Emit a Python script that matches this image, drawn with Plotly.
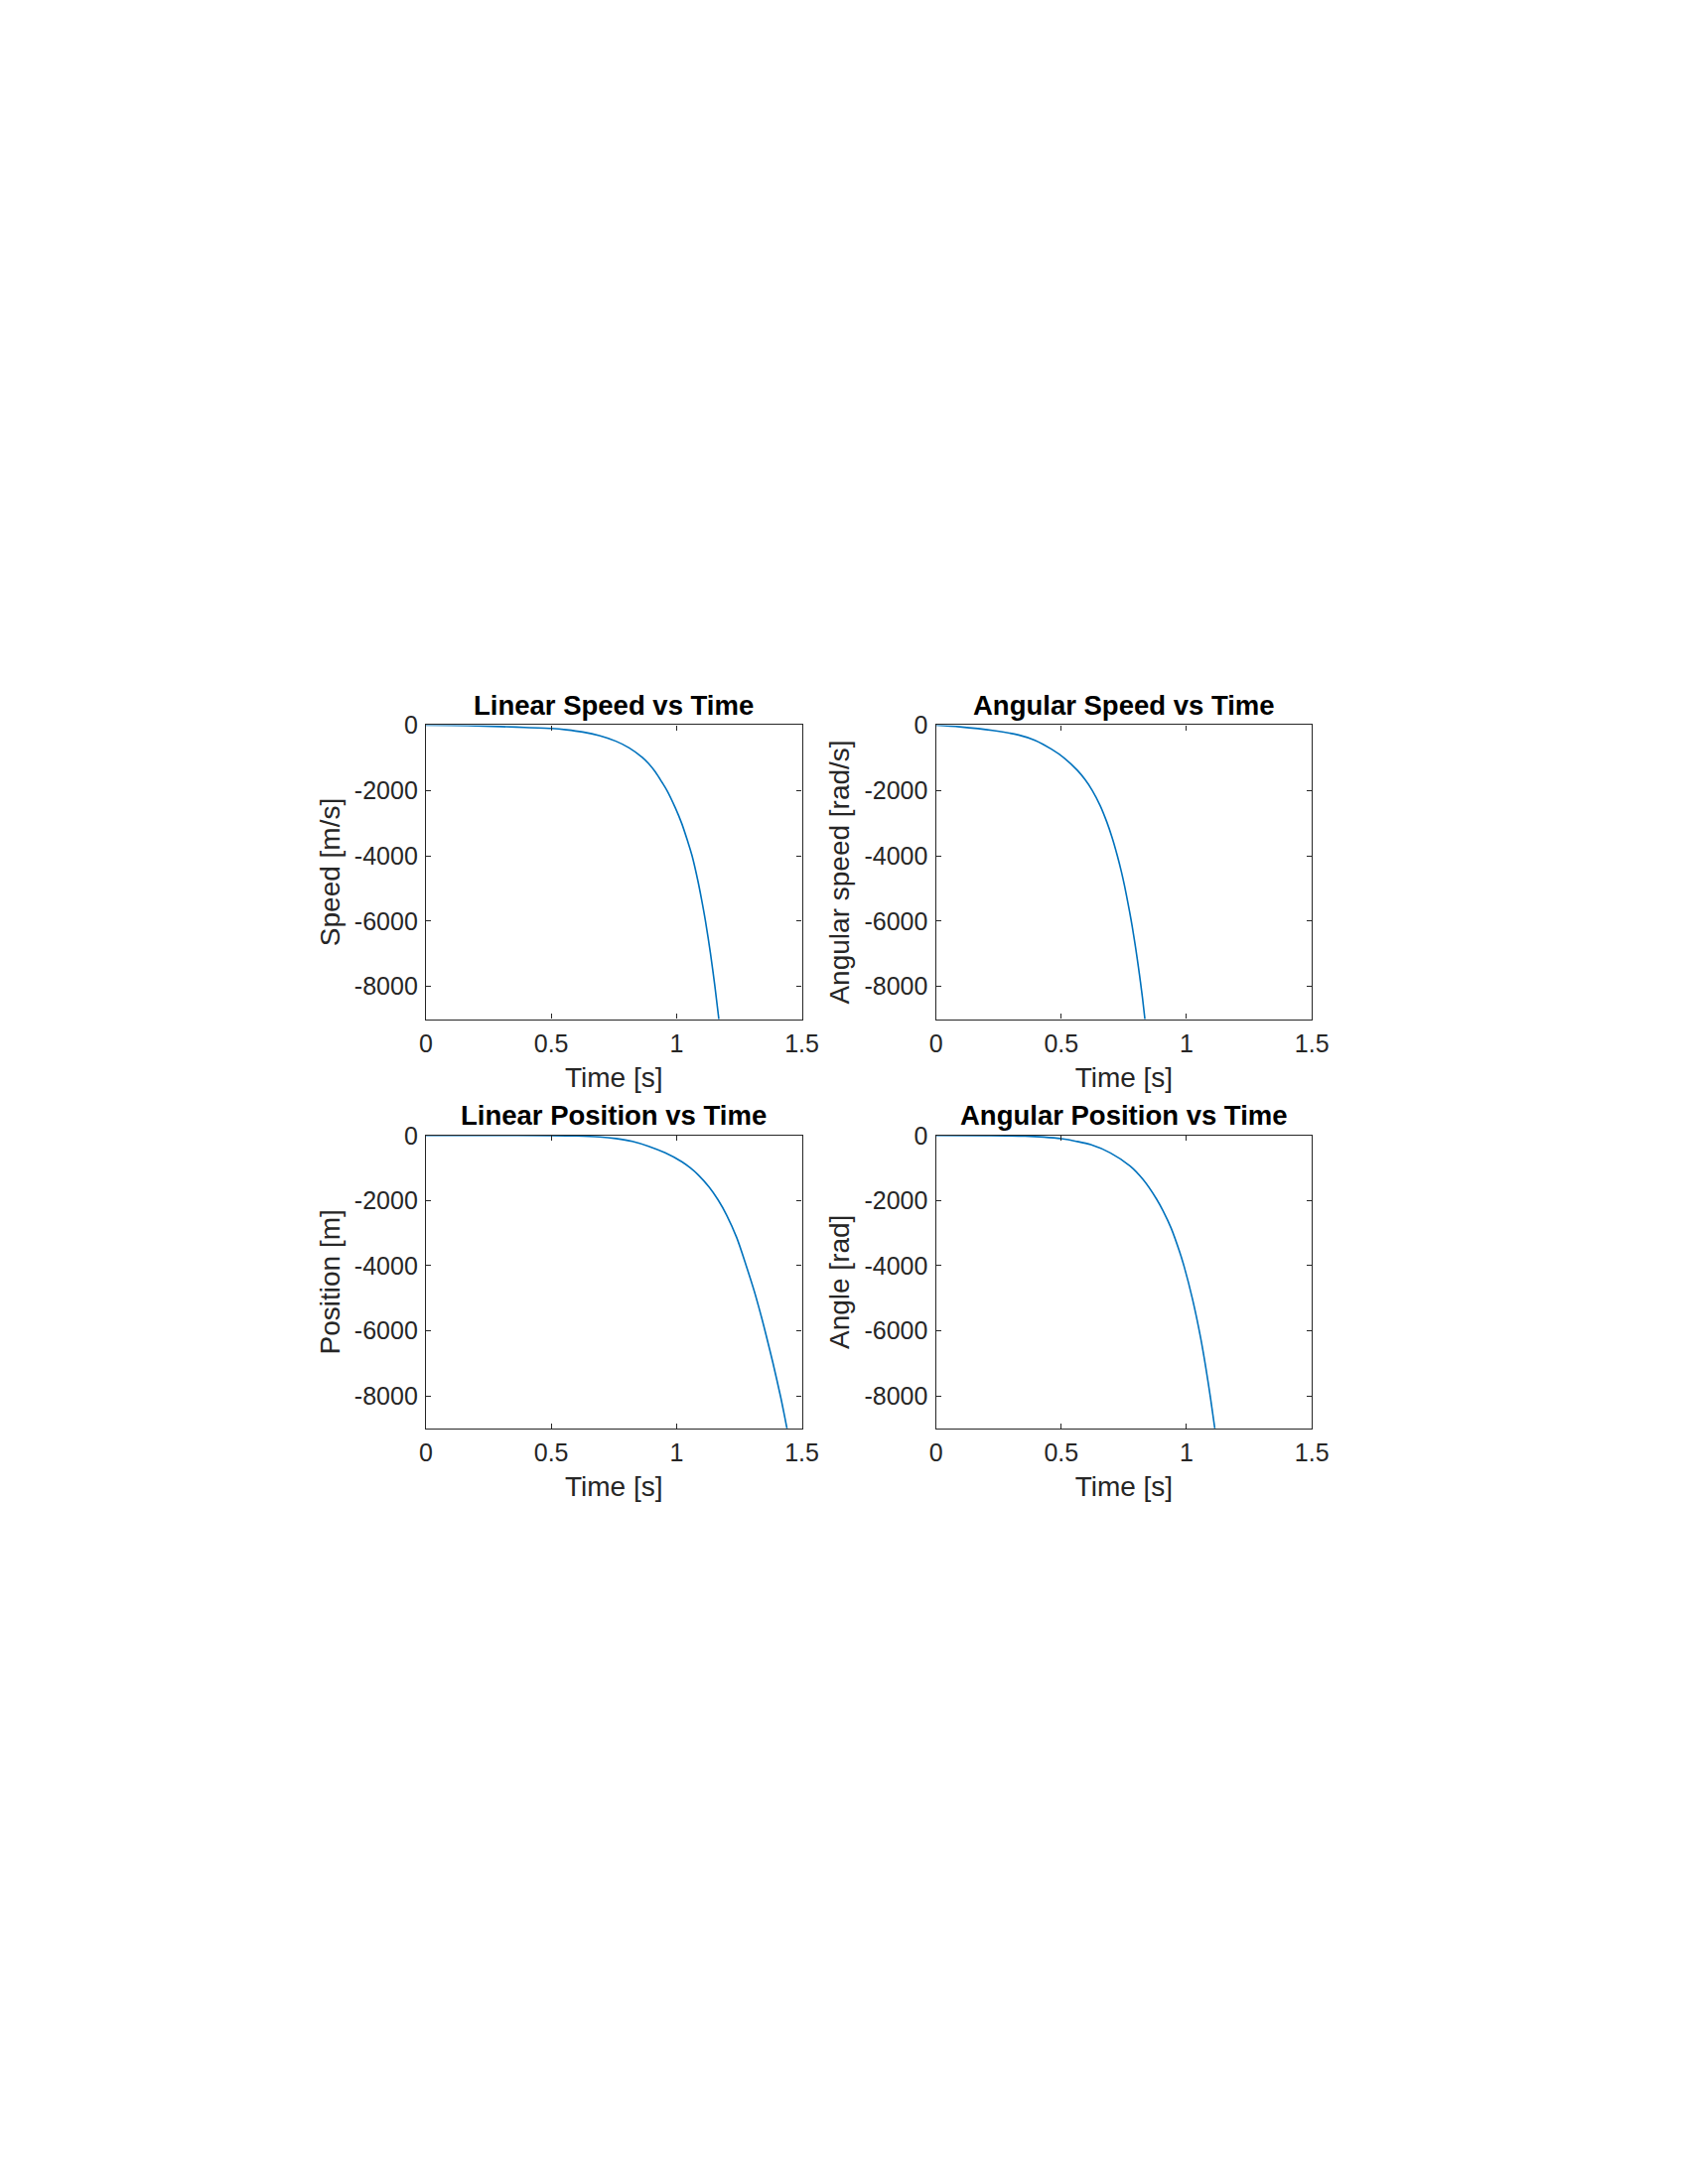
import plotly.graph_objects as go

# ---------------- data ----------------
t_lin_speed = [0, 0.10, 0.23, 0.36, 0.50, 0.56, 0.626, 0.692, 0.758, 0.811, 0.863, 0.889,
               0.916, 0.942, 0.962, 0.995, 1.021, 1.045, 1.062, 1.085, 1.100, 1.115, 1.135,
               1.153, 1.169]
v_lin_speed = [0, -10, -30, -61, -101, -142, -212, -323, -493, -696, -985, -1180,
               -1440, -1750, -2003, -2529, -3015, -3570, -4000, -4760, -5340, -5980, -6970,
               -7990, -9013]

t_ang_speed = [0, 0.094, 0.225, 0.330, 0.395, 0.461, 0.513, 0.565, 0.595, 0.624, 0.655,
               0.682, 0.703, 0.723, 0.740, 0.753, 0.767, 0.778, 0.789, 0.798, 0.808, 0.816,
               0.824, 0.834]
v_ang_speed = [0, -51, -162, -303, -465, -738, -1015, -1390, -1670, -2003, -2459,
               -2970, -3444, -3977, -4490, -4940, -5483, -5937, -6440, -6884, -7413, -7865,
               -8345, -9013]

t_lin_pos = [0, 0.25, 0.5, 0.6, 0.692, 0.758, 0.824, 0.889, 0.955, 1.021, 1.055, 1.087,
             1.13, 1.166, 1.20, 1.24, 1.278, 1.31, 1.34, 1.357, 1.385, 1.416, 1.430, 1.444]
v_lin_pos = [0, -1, -5, -15, -45, -95, -182, -334, -536, -807, -996, -1215,
             -1586, -1983, -2448, -3138, -4000, -4780, -5610, -6120, -7000, -8050, -8580,
             -9130]

t_ang_pos = [0, 0.2, 0.356, 0.43, 0.5, 0.56, 0.618, 0.696, 0.775, 0.827, 0.88, 0.906,
             0.938, 0.971, 0.991, 1.024, 1.056, 1.076, 1.096, 1.113]
v_ang_pos = [0, -5, -20, -50, -101, -180, -283, -536, -941, -1360, -1952, -2314,
             -2840, -3546, -4045, -5036, -6209, -7093, -8085, -9013]

x_tick_vals = [0, 0.5, 1, 1.5]
x_tick_text = ["0", "0.5", "1", "1.5"]
y_tick_vals = [0, -2000, -4000, -6000, -8000]
y_tick_text = ["0", "-2000", "-4000", "-6000", "-8000"]

titles = ["Linear Speed vs Time", "Angular Speed vs Time",
          "Linear Position vs Time", "Angular Position vs Time"]
y_labels = ["Speed [m/s]", "Angular speed [rad/s]", "Position [m]", "Angle [rad]"]
x_label = "Time [s]"

series = [(t_lin_speed, v_lin_speed), (t_ang_speed, v_ang_speed),
          (t_lin_pos, v_lin_pos), (t_ang_pos, v_ang_pos)]

# ---------------- layout ----------------
W, H = 1700, 2200
# axes boxes in pixels: (left, right, top, bottom)
boxes = [(428, 812, 721, 1019), (949, 1333, 721, 1019),
         (428, 812, 1137, 1434), (949, 1333, 1137, 1434)]
title_y_px = [701, 701, 1117, 1117]

FONT = "Liberation Sans, Arial, Helvetica, sans-serif"
TXT = "#262626"
LINE_COLOR = "#0072BD"

fig = go.Figure()
layout = dict(
    width=W, height=H,
    margin=dict(l=0, r=0, t=0, b=0),
    paper_bgcolor="white", plot_bgcolor="white",
    showlegend=False,
    font=dict(family=FONT, color=TXT),
    annotations=[],
)

for i, ((tx, vy), (l, r, t, b)) in enumerate(zip(series, boxes)):
    suffix = "" if i == 0 else str(i + 1)
    xname, yname = "x" + suffix, "y" + suffix
    fig.add_trace(go.Scatter(x=tx, y=vy, mode="lines", xaxis=xname, yaxis=yname,
                             line=dict(color=LINE_COLOR, width=1.6, shape="spline",
                                       smoothing=0.8),
                             hoverinfo="skip"))
    axis_common = dict(
        showgrid=False, zeroline=False, showline=True, linecolor=TXT, linewidth=1.3,
        mirror="ticks", ticks="inside", ticklen=5, tickwidth=1, tickcolor=TXT,
        tickfont=dict(family=FONT, size=25, color=TXT),
        fixedrange=True,
    )
    layout["xaxis" + suffix] = dict(
        axis_common, domain=[l / W, r / W], anchor=yname, range=[0, 1.5],
        tickmode="array", tickvals=x_tick_vals, ticktext=x_tick_text,
        ticklabelstandoff=2,
        title=dict(text=x_label, font=dict(family=FONT, size=28, color=TXT), standoff=11),
    )
    layout["yaxis" + suffix] = dict(
        axis_common, domain=[1 - b / H, 1 - t / H], anchor=xname, range=[-9000, 0],
        tickmode="array", tickvals=y_tick_vals, ticktext=y_tick_text,
        ticklabelstandoff=2,
        title=dict(text=y_labels[i], font=dict(family=FONT, size=28, color=TXT), standoff=6),
    )
    layout["annotations"].append(dict(
        text=titles[i], xref="paper", yref="paper",
        x=(l + r) / 2 / W, y=1 - title_y_px[i] / H,
        xanchor="center", yanchor="middle", showarrow=False,
        font=dict(family=FONT, size=27.5, color="#000000", weight="bold"),
    ))

fig.update_layout(**layout)
fig.write_html("out.html", config={"displayModeBar": False},
               post_script="document.body.style.margin='0px';")
